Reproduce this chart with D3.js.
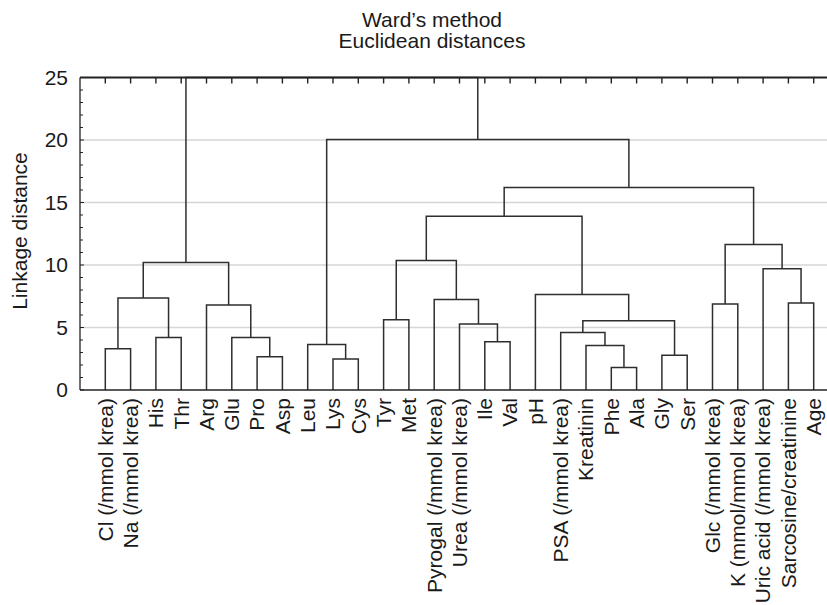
<!DOCTYPE html>
<html>
<head>
<meta charset="utf-8">
<title>Ward's method dendrogram</title>
<script src="https://d3js.org/d3.v7.min.js"></script>
<style>
body { margin: 0; background: white; }
svg { font-family: "Liberation Sans", Arial, sans-serif; }
.lbl { font-size: 21px; fill: #1a1a1a; }
</style>
</head>
<body>
<script>
// leaf order as drawn along the x axis
var leaves = ["Cl (/mmol krea)", "Na (/mmol krea)", "His", "Thr", "Arg", "Glu", "Pro", "Asp",
  "Leu", "Lys", "Cys", "Tyr", "Met", "Pyrogal (/mmol krea)", "Urea (/mmol krea)", "Ile", "Val",
  "pH", "PSA (/mmol krea)", "Kreatinin", "Phe", "Ala", "Gly", "Ser", "Glc (/mmol krea)",
  "K (mmol/mmol krea)", "Uric acid (/mmol krea)", "Sarcosine/creatinine", "Age"];

// merges: [left id, right id] ; ids < 29 are leaves, id 29+k is merge k
var mergeLeft  = [20, 9, 6, 22, 0, 19, 8, 15, 2, 5, 18, 14, 39, 11, 4, 24, 27, 13, 33, 17, 26, 47, 42, 44, 51, 53, 35, 50];
var mergeRight = [21, 10, 7, 23, 1, 29, 30, 16, 3, 31, 34, 36, 32, 12, 38, 25, 28, 40, 37, 41, 45, 43, 46, 49, 48, 52, 54, 55];
var mergeHeight = [1.81, 2.48, 2.67, 2.78, 3.3, 3.57, 3.65, 3.87, 4.2, 4.2, 4.6, 5.28, 5.55, 5.63,
  6.8, 6.88, 6.96, 7.25, 7.36, 7.65, 9.7, 10.2, 10.37, 11.65, 13.9, 16.2, 20.05, 25.0];

var yTicks = [0, 5, 10, 15, 20, 25];
var titleLines = ["Ward\u2019s method", "Euclidean distances"];

var width = 827, height = 605;
var pLeft = 80, pRight = 839, pTop = 77.5, pBottom = 390;

var svg = d3.select("body").append("svg")
  .attr("width", width)
  .attr("height", height);

var x = d3.scaleLinear().domain([-1, 29]).range([pLeft, pRight]);
var y = d3.scaleLinear().domain([0, 25]).range([pBottom, pTop]);

// gridlines
svg.append("g").selectAll("line")
  .data(yTicks.filter(function(d){ return d > 0 && d < 25; }))
  .enter().append("line")
  .attr("x1", pLeft).attr("x2", pRight)
  .attr("y1", function(d){ return y(d); }).attr("y2", function(d){ return y(d); })
  .attr("stroke", "#d6d6d6").attr("stroke-width", 1.5);

// node positions (in leaf units) and heights
var pos = leaves.map(function(d, i){ return i; });
var hgt = leaves.map(function(){ return 0; });
mergeLeft.forEach(function(a, k){
  var b = mergeRight[k];
  pos.push((pos[a] + pos[b]) / 2);
  hgt.push(mergeHeight[k]);
});

var g = svg.append("g")
  .attr("fill", "none")
  .attr("stroke", "#2e2e2e")
  .attr("stroke-width", 1.5);

g.selectAll("path")
  .data(mergeLeft.map(function(a, k){ return [a, mergeRight[k], mergeHeight[k]]; }))
  .enter().append("path")
  .attr("d", function(d){
    return "M" + x(pos[d[0]]) + "," + y(hgt[d[0]]) +
      "V" + y(d[2]) + "H" + x(pos[d[1]]) + "V" + y(hgt[d[1]]);
  });

// frame
var frame = svg.append("g").attr("stroke", "#222").attr("fill", "none");
frame.append("line").attr("x1", pLeft).attr("x2", pRight).attr("y1", pTop).attr("y2", pTop).attr("stroke-width", 2);
frame.append("line").attr("x1", pLeft).attr("x2", pRight).attr("y1", pBottom).attr("y2", pBottom).attr("stroke-width", 1.5);
frame.append("line").attr("x1", pLeft).attr("x2", pLeft).attr("y1", pTop).attr("y2", pBottom).attr("stroke-width", 1.3);

// top ticks at leaves
frame.selectAll(".tt")
  .data(leaves)
  .enter().append("line")
  .attr("x1", function(d, i){ return x(i); }).attr("x2", function(d, i){ return x(i); })
  .attr("y1", pTop).attr("y2", pTop + 6)
  .attr("stroke-width", 1.4);

// y axis minor + major ticks inside
frame.selectAll(".yt")
  .data(d3.range(0, 26))
  .enter().append("line")
  .attr("x1", pLeft).attr("x2", function(d){ return pLeft + (d % 5 === 0 ? 4 : 3); })
  .attr("y1", function(d){ return y(d); }).attr("y2", function(d){ return y(d); })
  .attr("stroke-width", 1);

// y tick labels
svg.append("g").selectAll("text")
  .data(yTicks)
  .enter().append("text")
  .attr("class", "lbl")
  .attr("x", 68).attr("y", function(d){ return y(d); })
  .attr("dy", "0.35em")
  .attr("text-anchor", "end")
  .text(function(d){ return d; });

// y axis title
svg.append("text")
  .attr("class", "lbl")
  .attr("transform", "translate(27,231) rotate(-90)")
  .attr("text-anchor", "middle")
  .text("Linkage distance");

// leaf labels
svg.append("g").selectAll("text")
  .data(leaves)
  .enter().append("text")
  .attr("class", "lbl")
  .attr("transform", function(d, i){ return "translate(" + x(i) + ",398) rotate(-90)"; })
  .attr("dy", "0.35em")
  .attr("text-anchor", "end")
  .text(function(d){ return d; });

// title
svg.append("g").selectAll("text")
  .data(titleLines)
  .enter().append("text")
  .attr("class", "lbl")
  .attr("x", 432).attr("y", function(d, i){ return 27 + i * 21; })
  .attr("text-anchor", "middle")
  .text(function(d){ return d; });
</script>
</body>
</html>
